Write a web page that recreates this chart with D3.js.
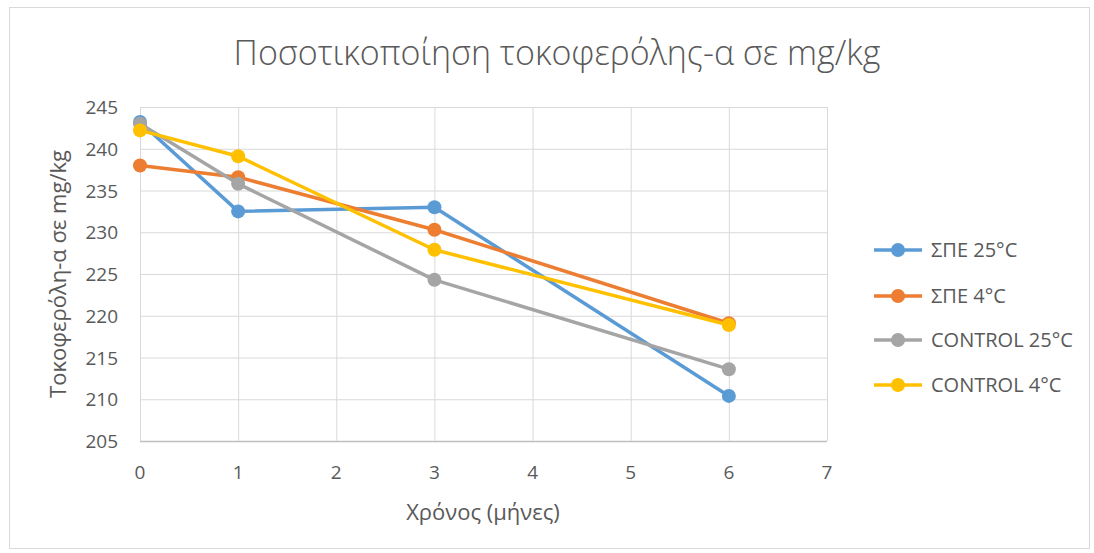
<!DOCTYPE html>
<html><head><meta charset="utf-8">
<script src="https://cdn.jsdelivr.net/npm/d3@7"></script>
<style>body{margin:0;background:#fff}svg{display:block}text{font-family:"Open Sans",Carlito,sans-serif;fill:#595959}</style>
</head><body>
<script>
const months = [0, 1, 3, 6];
const spe25 = [243.2, 232.5, 233.0, 210.4];
const spe4 = [238.0, 236.6, 230.3, 219.1];
const control25 = [243.0, 235.8, 224.3, 213.6];
const control4 = [242.2, 239.1, 227.9, 218.9];
const seriesNames = ["ΣΠΕ 25°C", "ΣΠΕ 4°C", "CONTROL 25°C", "CONTROL 4°C"];
const seriesColors = ["#5b9bd5", "#ed7d31", "#a5a5a5", "#ffc000"];
const xTicks = [0,1,2,3,4,5,6,7];
const yTicks = [205,210,215,220,225,230,235,240,245];
const title = "Ποσοτικοποίηση τοκοφερόλης-α σε mg/kg";
const xTitle = "Χρόνος (μήνες)";
const yTitle = "Τοκοφερόλη-α σε mg/kg";
const allSeries = [spe25, spe4, control25, control4];

const W=1094,H=553;
const svg=d3.select("body").append("svg").attr("width",W).attr("height",H);
svg.append("rect").attr("x",9.5).attr("y",7.5).attr("width",1080).attr("height",541).attr("fill","#fff").attr("stroke","#d9d9d9");
const x=d3.scaleLinear().domain([0,7]).range([140,827]);
const y=d3.scaleLinear().domain([205,245]).range([441,107]);

const g=svg.append("g");
g.selectAll("line.h").data(yTicks).join("line").attr("x1",140).attr("x2",827)
 .attr("y1",d=>y(d)+0.5).attr("y2",d=>y(d)+0.5).attr("stroke",d=>d===205?"#bfbfbf":"#d9d9d9").attr("stroke-width",d=>d===205?1.5:1);
g.selectAll("line.v").data(xTicks).join("line").attr("y1",107).attr("y2",441)
 .attr("x1",d=>x(d)+0.5).attr("x2",d=>x(d)+0.5).attr("stroke","#d9d9d9");

g.selectAll("text.yt").data(yTicks).join("text").attr("x",118).attr("y",d=>y(d)+7)
 .attr("text-anchor","end").attr("font-size",19).text(d=>d);
g.selectAll("text.xt").data(xTicks).join("text").attr("x",d=>x(d)).attr("y",479)
 .attr("text-anchor","middle").attr("font-size",19).text(d=>d);

svg.append("text").attr("x",557).attr("y",65).attr("text-anchor","middle").attr("font-size",34).attr("font-weight",300).text(title);
svg.append("text").attr("x",483).attr("y",520).attr("text-anchor","middle").attr("font-size",22).text(xTitle);
svg.append("text").attr("transform","translate(66,274) rotate(-90)").attr("text-anchor","middle").attr("font-size",22).text(yTitle);

const line=d3.line().x((d,i)=>x(months[i])).y(d=>y(d));
allSeries.forEach((s,k)=>{
  svg.append("path").datum(s).attr("d",line).attr("fill","none").attr("stroke",seriesColors[k]).attr("stroke-width",3.5).attr("stroke-linejoin","round");
  svg.selectAll(null).data(s).join("circle").attr("cx",(d,i)=>x(months[i])).attr("cy",d=>y(d)).attr("r",7).attr("fill",seriesColors[k]);
});

const legY=[250,296,340,385];
seriesNames.forEach((n,k)=>{
  const lg=svg.append("g");
  lg.append("line").attr("x1",874).attr("x2",922).attr("y1",legY[k]).attr("y2",legY[k]).attr("stroke",seriesColors[k]).attr("stroke-width",3.5);
  lg.append("circle").attr("cx",898).attr("cy",legY[k]).attr("r",7).attr("fill",seriesColors[k]);
  lg.append("text").attr("x",931).attr("y",legY[k]+7).attr("font-size",20).text(n);
});
</script>
</body></html>
